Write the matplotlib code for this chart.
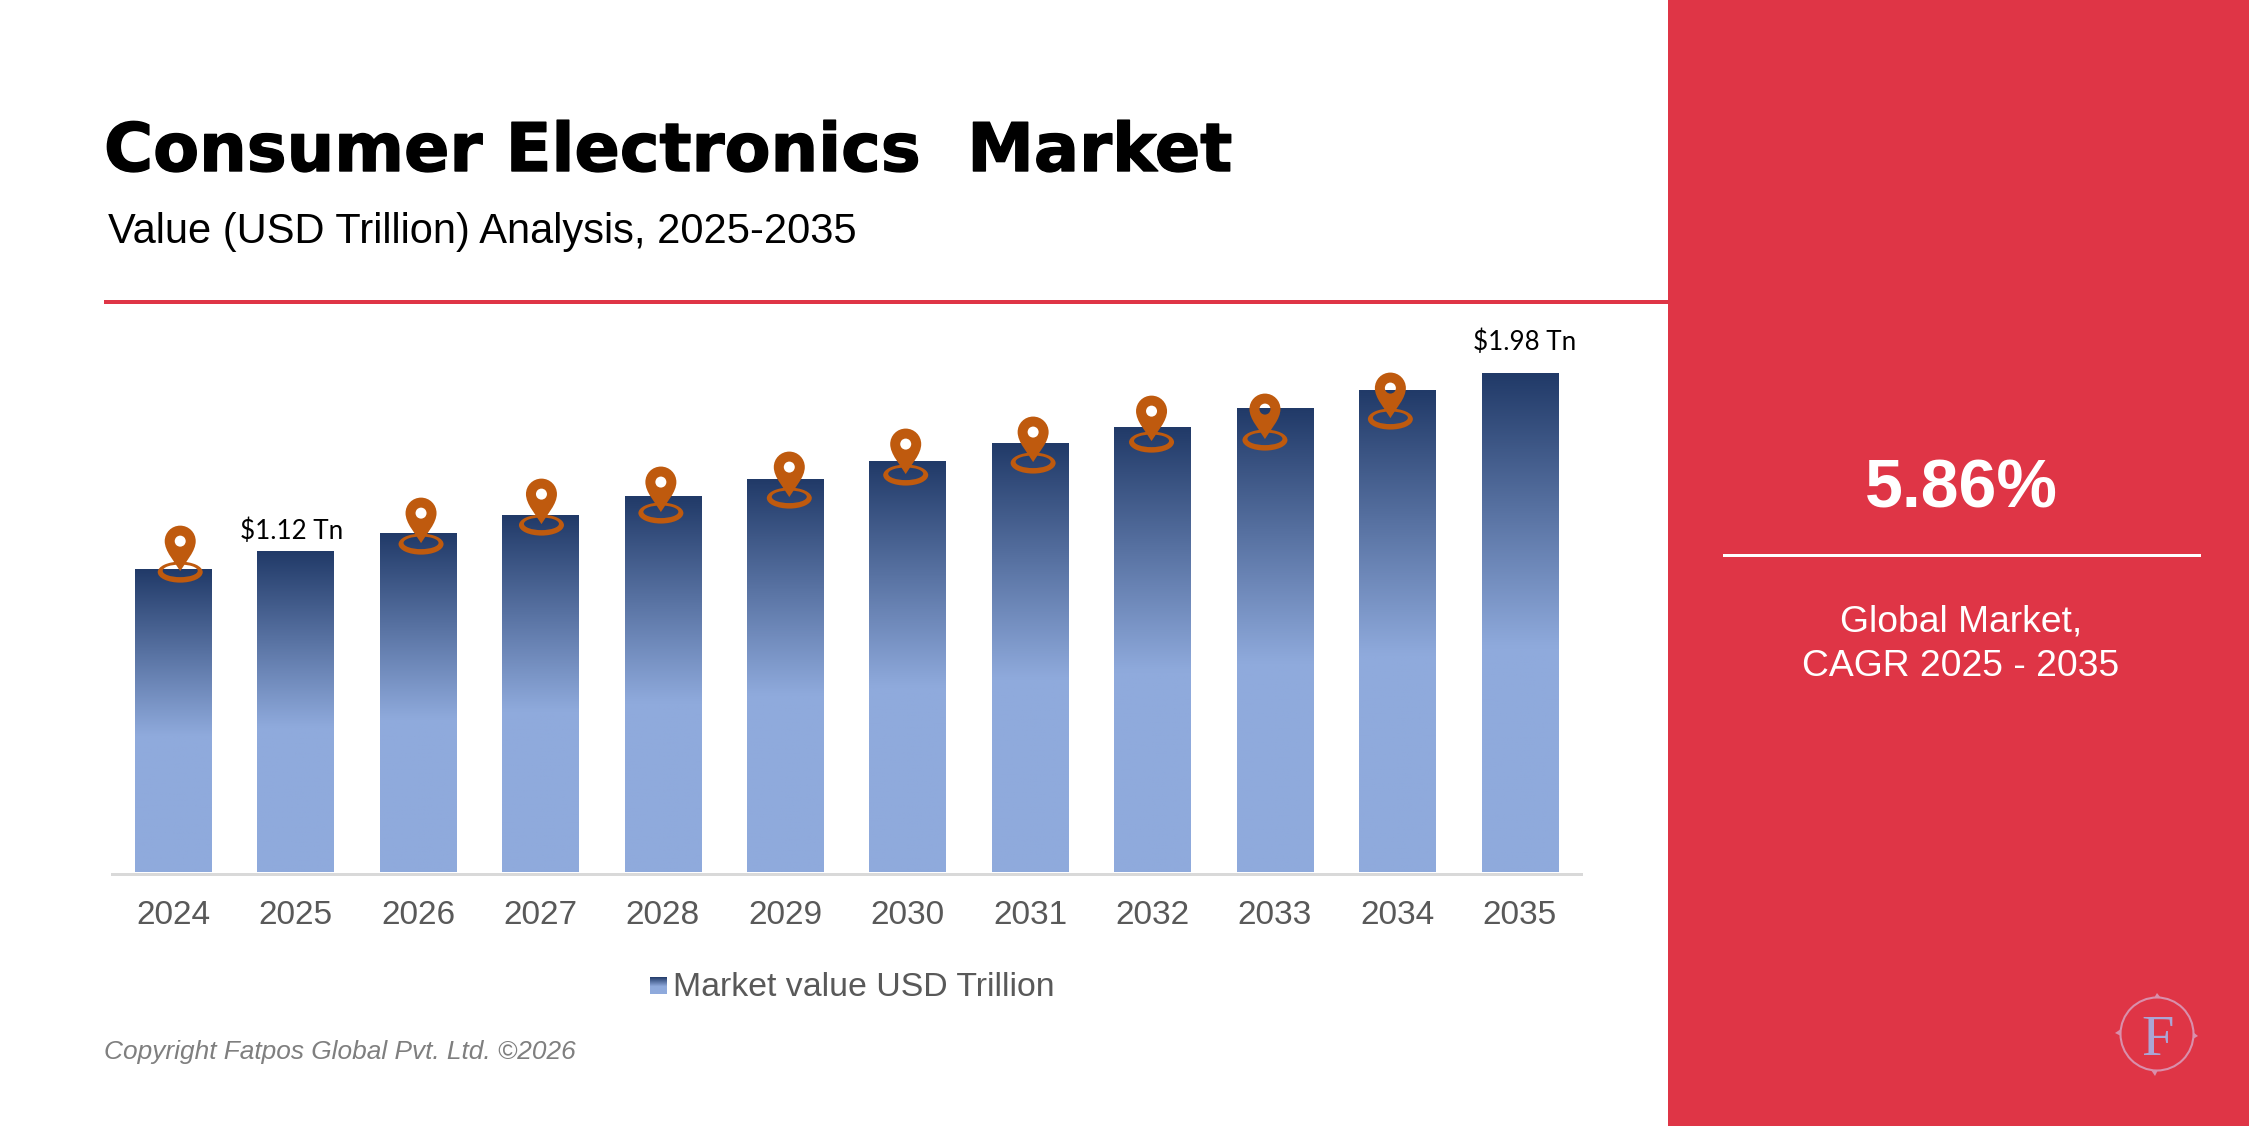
import numpy as np
from matplotlib import patheffects
from matplotlib import pyplot as plt
from matplotlib.colors import LinearSegmentedColormap
from matplotlib.patches import Circle, PathPatch, Rectangle
from matplotlib.path import Path
from matplotlib.transforms import Affine2D

years = ["2024", "2025", "2026", "2027", "2028", "2029", "2030", "2031", "2032", "2033", "2034", "2035"]
market_value = [1.033, 1.12, 1.207, 1.294, 1.386, 1.468, 1.555, 1.642, 1.719, 1.811, 1.898, 1.98]
value_labels = {"2025": "$1.12 Tn", "2035": "$1.98 Tn"}
cagr_text = "5.86%"

# pin placement relative to each bar's top centre, in pixels
pin_years = ["2024", "2026", "2027", "2028", "2029", "2030", "2031", "2032", "2033", "2034"]
pin_shift = [7, 3, 1, -2, 4, -2, 3, -1, -10, -7]
pin_drop = [2, 10, 9, 16, 18, 13, 19, 14, 31, 28]
label_shift = {"2025": (-4, 12), "2035": (5, 23)}

WIDTH, HEIGHT = 2249, 1126
RED = "#DF3546"
PIN = "#BF5A0E"
SANS = "Liberation Sans"

bar_cmap = LinearSegmentedColormap.from_list(
    "bar_fade", [(0.0, "#213A68"), (0.55, "#8FAADC"), (1.0, "#8FAADC")]
)
ramp = np.linspace(0, 1, 256).reshape(-1, 1)


def pin_paths():
    """Marker body and ground ring, in pixels with the tip at the origin and y up."""
    codes = [Path.MOVETO] + [Path.CURVE4] * 12
    body = Path(
        [
            (0, 0),
            (-6, 10), (-15.5, 20), (-15.5, 30),
            (-15.5, 38.6), (-8.6, 45.5), (0, 45.5),
            (8.6, 45.5), (15.5, 38.6), (15.5, 30),
            (15.5, 20), (6, 10), (0, 0),
        ],
        codes,
    )
    hole = Path.circle((0, 30), 5.5)
    circle = Path.unit_circle()
    outer = circle.transformed(Affine2D().scale(22.5, 10.5).translate(0, -1))
    # mirrored so the winding is reversed and the centre stays open
    inner = circle.transformed(Affine2D().scale(-17.5, 6.3).translate(0, 0.3))
    return Path.make_compound_path(body, hole), Path.make_compound_path(outer, inner)


fig = plt.figure(figsize=(WIDTH / 100, HEIGHT / 100), dpi=100, facecolor="white")

# full-figure layer, addressed in pixels from the top left
bg = fig.add_axes([0, 0, 1, 1])
bg.set_xlim(0, WIDTH)
bg.set_ylim(HEIGHT, 0)
bg.axis("off")

bg.add_patch(Rectangle((1668, 0), WIDTH - 1668, HEIGHT, color=RED, lw=0))
bg.add_patch(Rectangle((104, 300), 1564, 4, color=RED, lw=0))
bg.add_patch(Rectangle((1723, 554), 478, 3, color="white", lw=0))

title = bg.text(104, 171, "Consumer Electronics  Market", fontsize=48.2, fontweight="bold",
                family="DejaVu Sans", color="black", va="baseline")
title.set_path_effects([patheffects.withStroke(linewidth=1.0, foreground="black")])
bg.text(108, 243, "Value (USD Trillion) Analysis, 2025-2035", fontsize=30,
        family=SANS, color="black", va="baseline")
bg.text(104, 1059, "Copyright Fatpos Global Pvt. Ltd. ©2026", fontsize=18.9, style="italic",
        family=SANS, color="#7F7F7F", va="baseline")

bg.text(1961, 508, cagr_text, fontsize=49, fontweight="bold", family=SANS,
        color="white", ha="center", va="baseline")
bg.text(1961, 631, "Global Market,", fontsize=26.8, family=SANS,
        color="white", ha="center", va="baseline")
bg.text(1961, 676, "CAGR 2025 - 2035", fontsize=26.8, family=SANS,
        color="white", ha="center", va="baseline")

# logo in the corner of the panel
bg.add_patch(Circle((2157, 1034), 36.5, fill=False, ec="#D98FAB", lw=1.5))
for tip, base in [
    ((2157, 993), [(2154, 998), (2161, 998)]),
    ((2198, 1036), [(2193, 1032), (2193, 1039)]),
    ((2155, 1076), [(2151, 1070), (2158, 1070)]),
    ((2115, 1033), [(2121, 1029), (2121, 1036)]),
]:
    bg.fill(*zip(tip, *base), color="#D98FAB", lw=0)
bg.text(2157.5, 1055, "F", fontsize=42, family="Liberation Serif", color="#AAA5D5",
        ha="center", va="baseline")

# legend, built from a gradient swatch and a text label
swatch = fig.add_axes([650 / WIDTH, 1 - 994 / HEIGHT, 17 / WIDTH, 17 / HEIGHT])
swatch.imshow(ramp, cmap=bar_cmap, aspect="auto")
swatch.axis("off")
bg.text(673, 996, "Market value USD Trillion", fontsize=24.4, family=SANS,
        color="#595959", va="baseline")

# bar chart, the axis floor sits below zero like the source chart's
ax = fig.add_axes([112 / WIDTH, 1 - 872 / HEIGHT, 1469 / WIDTH, 561 / HEIGHT])
ax.patch.set_alpha(0)
positions = np.arange(len(years))
bars = ax.bar(positions, market_value, width=0.625, bottom=-0.43, color="none")

for bar, value in zip(bars, market_value):
    x0 = bar.get_x()
    ax.imshow(ramp, cmap=bar_cmap, aspect="auto", zorder=2,
              extent=(x0, x0 + bar.get_width(), -0.43, value))
ax.set_xlim(-0.5, len(years) - 0.5)
ax.set_ylim(-0.43, 2.28)

ax.set_yticks([])
ax.set_xticks(positions, years)
ax.tick_params(axis="x", length=0, pad=19, labelsize=24, labelcolor="#595959",
               labelfontfamily=SANS)
for side in ["top", "left", "right"]:
    ax.spines[side].set_visible(False)
ax.spines["bottom"].set_color("#D9D9D9")
ax.spines["bottom"].set_linewidth(2.16)
ax.spines["bottom"].set_position(("outward", 1.08))

for year, text in value_labels.items():
    i = years.index(year)
    dx, dy = label_shift[year]
    ax.annotate(text, (positions[i], market_value[i]), xytext=(dx * 0.72, dy * 0.72),
                textcoords="offset points", ha="center", va="baseline",
                fontsize=18.7, family="Lato", color="black")

body_path, ring_path = pin_paths()
for year, dx, drop in zip(pin_years, pin_shift, pin_drop):
    i = years.index(year)
    px, py = ax.transData.transform((positions[i], market_value[i]))
    place = Affine2D().translate(px + dx, py - drop)
    ax.add_patch(PathPatch(ring_path, transform=place, fc=PIN, lw=0, zorder=3, clip_on=False))
    ax.add_patch(PathPatch(body_path, transform=place, fc=PIN, lw=0, zorder=4, clip_on=False))

fig.savefig("out.png", dpi=100)
